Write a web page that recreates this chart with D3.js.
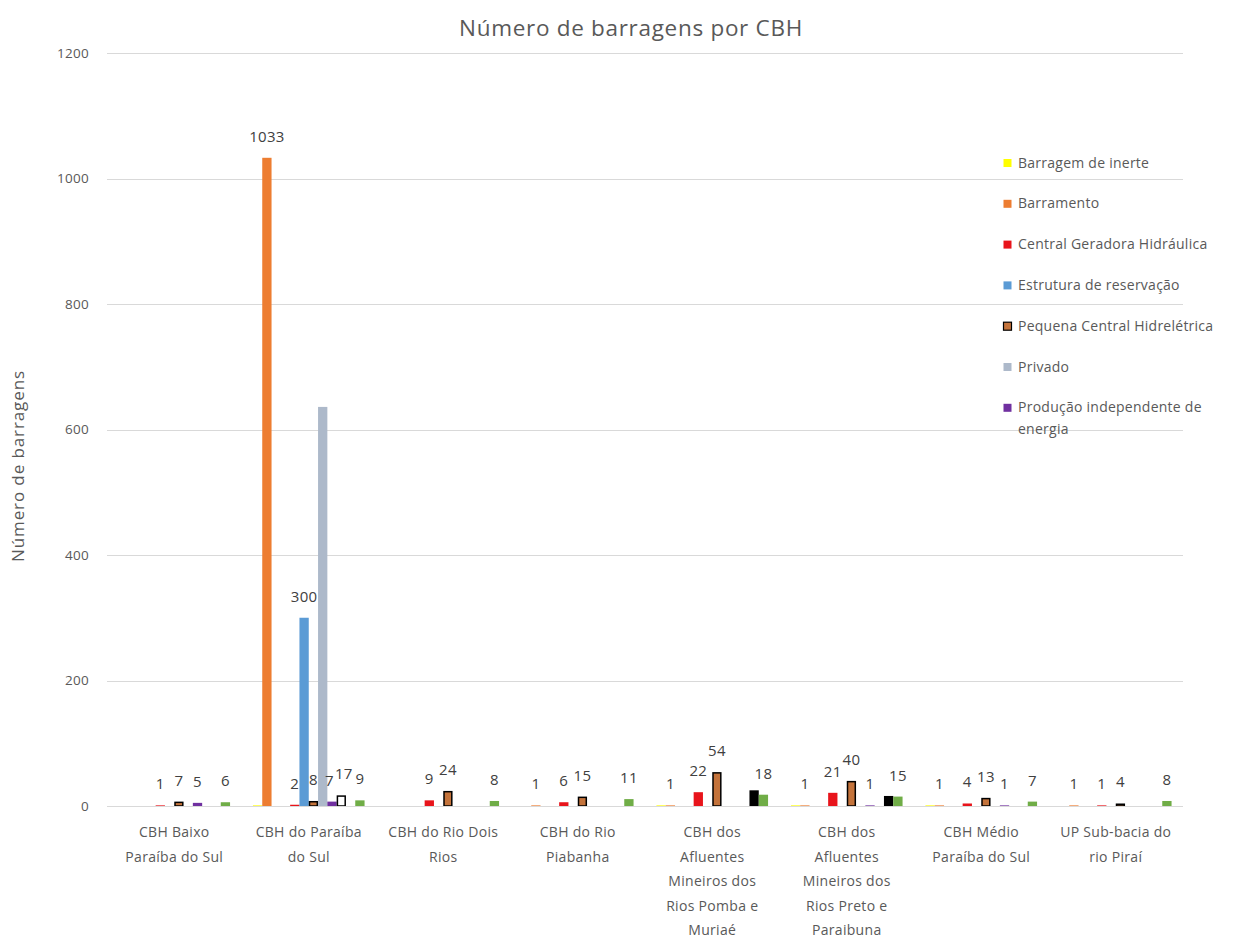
<!DOCTYPE html>
<html lang="pt">
<head>
<meta charset="utf-8">
<script src="https://cdn.jsdelivr.net/npm/d3@7/dist/d3.min.js"></script>
<style>
  html, body { margin: 0; padding: 0; background: #fff; }
  svg { display: block; font-family: "Open Sans", "Noto Sans", sans-serif; }
</style>
</head>
<body>
<svg id="chart" width="1243" height="938"></svg>
<script>
// Basins (category labels; "\n" marks where the label wraps)
const categories = [
  "CBH Baixo\nParaíba do Sul",
  "CBH do Paraíba\ndo Sul",
  "CBH do Rio Dois\nRios",
  "CBH do Rio\nPiabanha",
  "CBH dos\nAfluentes\nMineiros dos\nRios Pomba e\nMuriaé",
  "CBH dos\nAfluentes\nMineiros dos\nRios Preto e\nParaibuna",
  "CBH Médio\nParaíba do Sul",
  "UP Sub-bacia do\nrio Piraí"
];

// Dam types, in plotting order (unnamed slots are empty series)
const seriesNames = [
  "Barragem de inerte",
  "Barramento",
  "s3",
  "s4",
  "Central Geradora Hidráulica",
  "Estrutura de reservação",
  "Pequena Central Hidrelétrica",
  "Privado",
  "Produção independente de energia",
  "s10",
  "s11",
  "s12"
];

// Legend entries shown
const legendNames = [
  "Barragem de inerte",
  "Barramento",
  "Central Geradora Hidráulica",
  "Estrutura de reservação",
  "Pequena Central Hidrelétrica",
  "Privado",
  "Produção independente de\nenergia"
];

// Counts per basin, one array per series
const barragemInerte   = [0, 1, 0, 0, 1, 1, 1, 0];
const barramento       = [0, 1033, 0, 1, 1, 1, 1, 1];
const serie3           = [0, 0, 0, 0, 0, 0, 0, 0];
const serie4           = [0, 0, 0, 0, 0, 0, 0, 0];
const centralGeradora  = [1, 2, 9, 6, 22, 21, 4, 1];
const estruturaReserv  = [0, 300, 0, 0, 0, 0, 0, 0];
const pequenaCentral   = [7, 8, 24, 15, 54, 40, 13, 4];
const privado          = [0, 636, 0, 0, 0, 0, 0, 0];
const producaoIndep    = [5, 7, 0, 0, 0, 1, 1, 0];
const serie10          = [0, 17, 0, 0, 0, 0, 0, 0];
const serie11          = [0, 0, 0, 0, 25, 16, 0, 0];
const serie12          = [6, 9, 8, 11, 18, 15, 7, 8];

const seriesValues = [
  barragemInerte, barramento, serie3, serie4, centralGeradora, estruturaReserv,
  pequenaCentral, privado, producaoIndep, serie10, serie11, serie12
];

// Y axis ticks
const yTicks = [0, 200, 400, 600, 800, 1000, 1200];

// Styling per series
const fills   = ["#ffff00", "#ed7d31", "#a5a5a5", "#ffc000", "#e8141b", "#5b9bd5",
                 "#c4733b", "#adb9ca", "#7030a0", "#ffffff", "#000000", "#70ad47"];
const strokes = [null, null, null, null, null, null,
                 "#000000", null, null, "#000000", null, null];
const showLabel = [false, true, false, false, true, true, true, false, true, true, false, true];

const svg = d3.select("#chart");
const margin = { left: 107, right: 60, top: 53, bottom: 132 };
const W = 1243, H = 938;
const plotRight = W - margin.right;
const plotBottom = H - margin.bottom;

const x0 = d3.scaleBand()
  .domain(d3.range(categories.length))
  .range([margin.left, plotRight])
  .padding(0);

const x1 = d3.scaleBand()
  .domain(d3.range(seriesNames.length))
  .range([0, x0.bandwidth()])
  .paddingInner(0)
  .paddingOuter(1.23);

const y = d3.scaleLinear().domain([0, 1200]).range([plotBottom, margin.top]);

const textColor = "#595959";

// Gridlines
svg.append("g")
  .selectAll("line")
  .data(yTicks)
  .join("line")
  .attr("x1", margin.left)
  .attr("x2", plotRight)
  .attr("y1", d => Math.round(y(d)) + 0.5)
  .attr("y2", d => Math.round(y(d)) + 0.5)
  .attr("stroke", "#d9d9d9")
  .attr("stroke-width", 1);

// Y axis labels
const yAxis = d3.axisLeft(y).tickValues(yTicks).tickFormat(d3.format("d")).tickSize(0).tickPadding(18);
const yg = svg.append("g").attr("transform", `translate(${margin.left},0)`).call(yAxis);
yg.select(".domain").remove();
yg.selectAll("text")
  .attr("fill", textColor)
  .style("font-size", "13.5px")
  .style("letter-spacing", "0.3px")
  .style("font-family", "\"Open Sans\", sans-serif");

// Bars
const flat = [];
seriesValues.forEach((vals, s) => {
  vals.forEach((v, c) => flat.push({ s, c, v }));
});

const bars = svg.append("g");
bars.selectAll("rect")
  .data(flat.filter(d => d.v > 0))
  .join("rect")
  .attr("x", d => x0(d.c) + x1(d.s) + (strokes[d.s] ? 0.75 : 0))
  .attr("width", d => x1.bandwidth() - (strokes[d.s] ? 1.5 : 0))
  .attr("y", d => y(d.v) + (strokes[d.s] ? 0.75 : 0))
  .attr("height", d => Math.max(0, plotBottom - y(d.v) - (strokes[d.s] ? 0.75 : 0)))
  .attr("fill", d => fills[d.s])
  .attr("stroke", d => strokes[d.s] || "none")
  .attr("stroke-width", 1.5);

// Axis baseline
svg.append("line")
  .attr("x1", margin.left).attr("x2", plotRight)
  .attr("y1", plotBottom + 0.5).attr("y2", plotBottom + 0.5)
  .attr("stroke", "#d9d9d9");

// Data labels
const labels = svg.append("g")
  .selectAll("text")
  .data(flat.filter(d => d.v > 0 && showLabel[d.s]))
  .join("text")
  .attr("x", d => x0(d.c) + x1(d.s) + x1.bandwidth() / 2)
  .attr("y", d => y(d.v) - 16)
  .attr("text-anchor", "middle")
  .attr("fill", "#404040")
  .style("font-size", "15px")
  .style("letter-spacing", "0.3px")
  .text(d => d.v);

// Spread apart neighbouring labels within a basin that collide
const nodes = labels.nodes().map(n => ({ n, d: d3.select(n).datum(), b: n.getBBox() }));
d3.groups(nodes, o => o.d.c).forEach(([, group]) => {
  group.sort((a, b) => a.b.x - b.b.x);
  for (let i = 1; i < group.length; i++) {
    const a = group[i - 1], b = group[i];
    const vOverlap = a.b.y < b.b.y + b.b.height && b.b.y < a.b.y + a.b.height;
    const hOverlap = a.b.x + a.b.width + 1 - b.b.x;
    if (vOverlap && hOverlap > 0) {
      const half = hOverlap / 2;
      a.b.x -= half; b.b.x += half;
      d3.select(a.n).attr("x", +d3.select(a.n).attr("x") - half);
      d3.select(b.n).attr("x", +d3.select(b.n).attr("x") + half);
    }
  }
});

// Category labels
const xl = svg.append("g");
categories.forEach((name, i) => {
  const cx = x0(i) + x0.bandwidth() / 2;
  const t = xl.append("text")
    .attr("x", cx)
    .attr("y", plotBottom + 31)
    .attr("text-anchor", "middle")
    .attr("fill", textColor)
    .style("font-size", "14px")
    .style("letter-spacing", "0.3px");
  name.split("\n").forEach((line, k) => {
    t.append("tspan")
      .attr("x", cx)
      .attr("dy", k === 0 ? 0 : 24.5)
      .text(line);
  });
});

// Title
svg.append("text")
  .attr("x", 631)
  .attr("y", 36)
  .attr("text-anchor", "middle")
  .attr("fill", textColor)
  .style("font-size", "22.5px")
  .style("letter-spacing", "0.7px")
  .text("Número de barragens por CBH");

// Y axis title
svg.append("text")
  .attr("transform", "translate(24,466) rotate(-90)")
  .attr("text-anchor", "middle")
  .attr("fill", textColor)
  .style("font-size", "17px")
  .style("letter-spacing", "0.9px")
  .text("Número de barragens");

// Legend
const legendColor = name => fills[seriesNames.indexOf(name.replace("\n", " "))];
const legendStroke = name => strokes[seriesNames.indexOf(name.replace("\n", " "))];
const lg = svg.append("g");
legendNames.forEach((name, i) => {
  const yy = 163 + i * 40.8;
  lg.append("rect")
    .attr("x", 1003.5).attr("y", yy - 4)
    .attr("width", 8).attr("height", 8)
    .attr("fill", legendColor(name))
    .attr("stroke", legendStroke(name) || "none")
    .attr("stroke-width", 1.2);
  const t = lg.append("text")
    .attr("x", 1018)
    .attr("y", yy + 4.5)
    .attr("fill", textColor)
    .style("font-size", "14px")
    .style("letter-spacing", "0.25px");
  name.split("\n").forEach((line, k) => {
    t.append("tspan").attr("x", 1018).attr("dy", k === 0 ? 0 : 22).text(line);
  });
});
</script>
</body>
</html>
